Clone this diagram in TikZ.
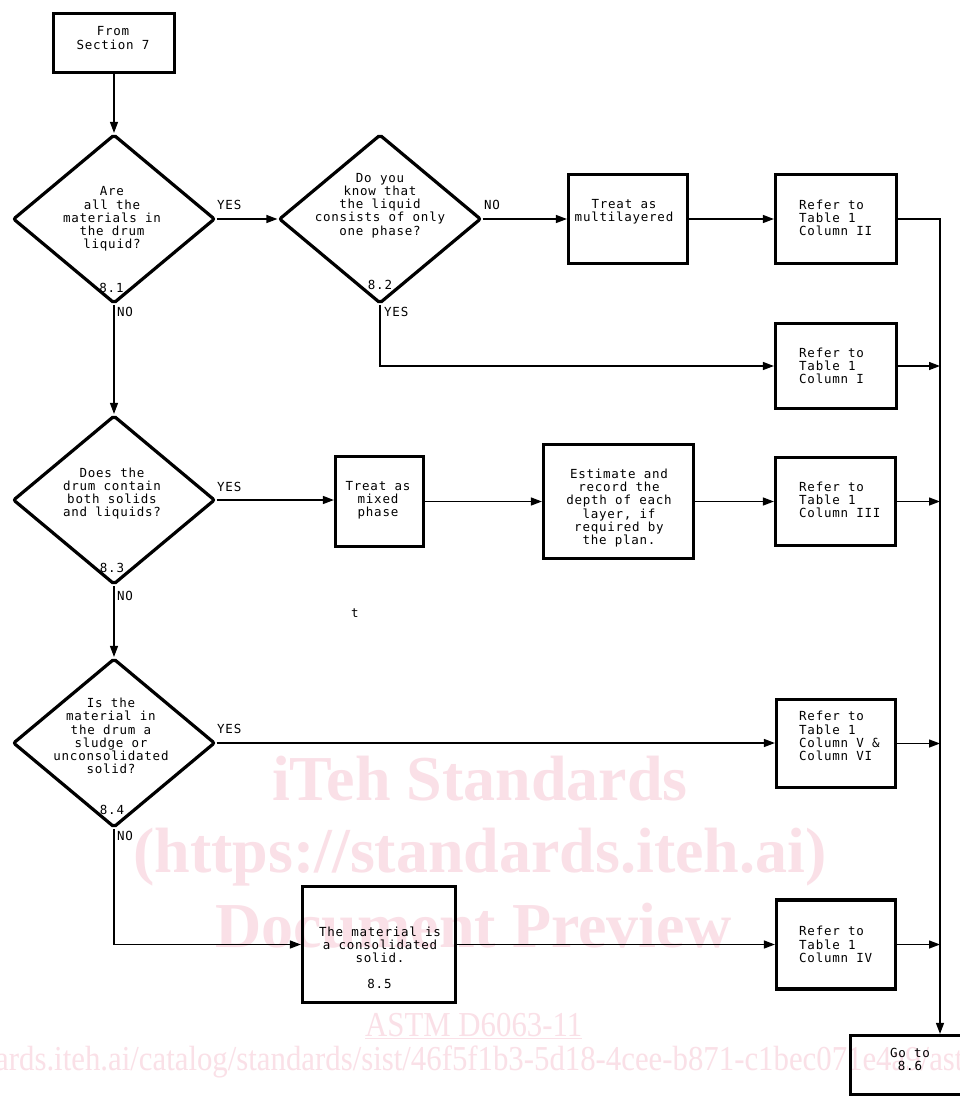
\documentclass[tikz,border=0pt]{standalone}
\usepackage{fontspec}
\usetikzlibrary{arrows.meta,shapes.geometric}
\newfontfamily\fcfont[LetterSpace=6]{DejaVu Sans Mono}
\newfontfamily\wmfont{Liberation Serif}
\definecolor{wmpink}{RGB}{250,224,231}

\tikzset{
  box/.style={draw, line width=3.2pt, inner sep=0pt},
  cond/.style={draw, diamond, line width=3.2pt, rounded corners=2pt,
    minimum width=202pt, minimum height=169pt, inner sep=0pt},
  txt/.style={font=\fcfont\fontsize{12.5}{13.2}\selectfont, inner sep=0pt, align=center},
  lbl/.style={txt, anchor=west},
  reftxt/.style={txt, align=left, anchor=west},
  flow/.style={line width=1.3pt, -{Triangle[length=11pt,width=8pt]}},
  wm/.style={text=wmpink, inner sep=0pt, anchor=base west},
  wmbold/.style={wm, font=\wmfont\bfseries\fontsize{64}{64}\selectfont},
  wmthin/.style={wm, font=\wmfont\fontsize{35}{35}\selectfont},
}

\begin{document}
\begin{tikzpicture}[x=1pt, y=-1pt]
\useasboundingbox (0,0) rectangle (959,1098);
\fill[white] (0,0) rectangle (959,1098);

% background watermark
\node[wmbold] (wm1) at (272,800) {iTeh Standards};
\node[wmbold] (wm2) at (133,872) {(https://standards.iteh.ai)};
\node[wmbold] (wm3) at (215,947) {Document Preview};
\node[wmthin] (wm4) at (365,1036) {\scalebox{0.88}[1]{\underline{ASTM D6063-11}}};
\node[wmthin] (wm5) at (-5,1070) {\scalebox{0.88}[1]{ards.iteh.ai/catalog/standards/sist/46f5f1b3-5d18-4cee-b871-c1bec071e4a9/astm-d6063-11}};

% process boxes
\node[box, minimum width=121pt, minimum height=59pt] (start) at (114,43) {};
\node[box, minimum width=119pt, minimum height=89pt] (multi) at (628,219) {};
\node[box, minimum width=121pt, minimum height=89pt] (r2) at (836,219) {};
\node[box, minimum width=121pt, minimum height=85pt] (r1) at (836,366) {};
\node[box, minimum width=88pt, minimum height=90pt] (mixed) at (379.5,501.5) {};
\node[box, minimum width=150pt, minimum height=114pt] (est) at (618.5,501.5) {};
\node[box, minimum width=120pt, minimum height=88pt] (r3) at (835.5,501.5) {};
\node[box, minimum width=119pt, minimum height=88pt] (r56) at (836,743.5) {};
\node[box, minimum width=153pt, minimum height=116pt] (cons) at (379,944.5) {};
\node[box, minimum width=119pt, minimum height=89pt] (r4) at (836,944.5) {};
\node[box, minimum width=123pt, minimum height=59pt] (goto) at (912,1065) {};

% decisions
\node[cond] (d1) at (114,219) {};
\node[cond] (d2) at (380,219) {};
\node[cond] (d3) at (114,500) {};
\node[cond] (d4) at (114,743) {};

% texts
\node[txt] (startT) at (113,38) {From\\Section 7};
\node[txt] (d1T) at (112,219) {Are\\all the\\materials in\\the drum\\liquid?};
\node[txt] (d2T) at (380,205.5) {Do you\\know that\\the liquid\\consists of only\\one phase?};
\node[txt] (multiT) at (624,211.5) {Treat as\\multilayered};
\node[reftxt] (r2T) at (799,218) {Refer to\\Table 1\\Column II};
\node[reftxt] (r1T) at (799,366) {Refer to\\Table 1\\Column I};
\node[txt] (d3T) at (112,493.5) {Does the\\drum contain\\both solids\\and liquids?};
\node[txt] (mixedT) at (378,500) {Treat as\\mixed\\phase};
\node[txt] (estT) at (619,508) {Estimate and\\record the\\depth of each\\layer, if\\required by\\the plan.};
\node[reftxt] (r3T) at (799,500) {Refer to\\Table 1\\Column III};
\node[txt] (stray) at (355,613) {t};
\node[txt] (d4T) at (111,736) {Is the\\material in\\the drum a\\sludge or\\unconsolidated\\solid?};
\node[reftxt] (r56T) at (799,736) {Refer to\\Table 1\\Column V \&\\Column VI};
\node[txt] (consT) at (380,944.5) {The material is\\a consolidated\\solid.};
\node[txt] (consN) at (379.5,984) {8.5};
\node[reftxt] (r4T) at (799,944.5) {Refer to\\Table 1\\Column IV};
\node[txt] (gotoT) at (910,1059.5) {Go to\\8.6};

% step numbers and branch labels
\node[txt] (n1) at (111.5,288) {8.1};
\node[txt] (n2) at (380,285) {8.2};
\node[txt] (n3) at (112,568) {8.3};
\node[txt] (n4) at (112,810) {8.4};
\node[lbl] (y1) at (217,205) {YES};
\node[lbl] (no1) at (117,312) {NO};
\node[lbl] (no2) at (484,205) {NO};
\node[lbl] (y2) at (384,312) {YES};
\node[lbl] (y3) at (217,487) {YES};
\node[lbl] (no3) at (117,596) {NO};
\node[lbl] (y4) at (217,729) {YES};
\node[lbl] (no4) at (117,836) {NO};

% connectors
\coordinate (bus) at (940,219);
\draw[flow] (start.south) -- (d1.north);
\draw[flow] (d1.east) -- (d2.west);
\draw[flow] (d2.east) -- (multi.west);
\draw[flow] (multi.east) -- (r2.west);
\draw[flow] (r2.east) -- (bus) -- (bus |- goto.north);
\draw[flow] (d2.south) |- (r1.west);
\draw[flow] (r1.east) -- (r1.east -| bus);
\draw[flow] (d1.south) -- (d3.north);
\draw[flow] (d3.east) -- (d3.east -| mixed.west);
\draw[flow] (mixed.east) -- (est.west);
\draw[flow] (est.east) -- (est.east -| r3.west);
\draw[flow] (r3.east) -- (r3.east -| bus);
\draw[flow] (d3.south) -- (d4.north);
\draw[flow] (d4.east) -- (d4.east -| r56.west);
\draw[flow] (r56.east) -- (r56.east -| bus);
\draw[flow] (d4.south) |- (cons.west);
\draw[flow] (cons.east) -- (cons.east -| r4.west);
\draw[flow] (r4.east) -- (r4.east -| bus);
\end{tikzpicture}
\end{document}
